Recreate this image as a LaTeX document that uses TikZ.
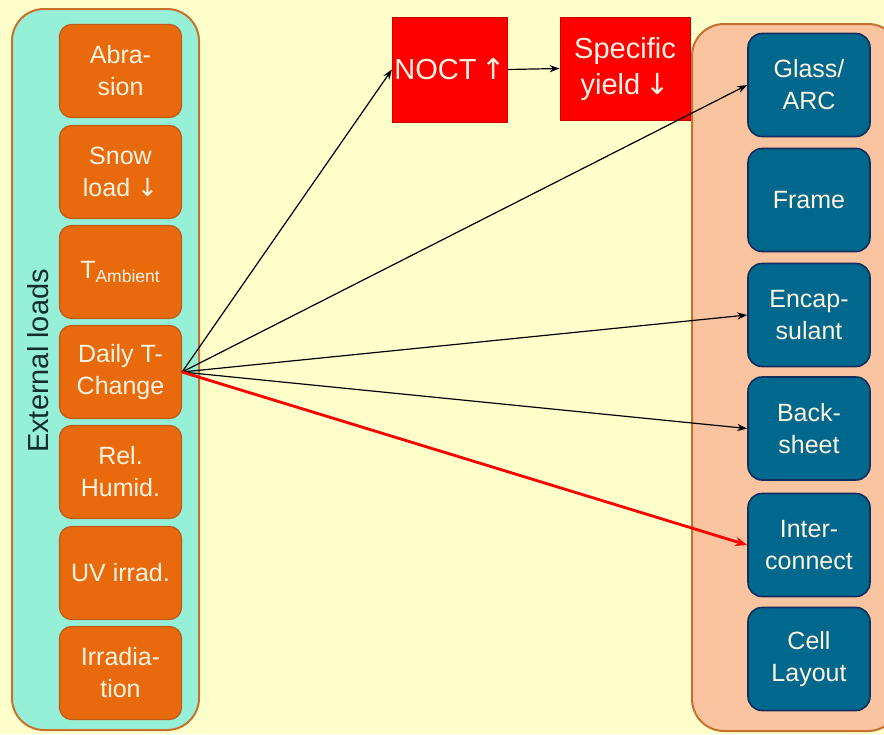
\documentclass[tikz,border=0pt]{standalone}
\usepackage{fontspec}
\setmainfont{Liberation Sans}
\newfontfamily\arrowfont{DejaVu Sans}
\usepackage{tikz}
\usetikzlibrary{
  arrows.meta, positioning, calc
}
\usepackage{xcolor}
\definecolor{bgyellow}{RGB}{255,255,204}
\definecolor{loadteal}{RGB}{150,240,216}
\definecolor{loadorange}{RGB}{232,106,12}
\definecolor{loadedge}{RGB}{190,90,25}
\definecolor{framebrown}{RGB}{200,112,45}
\definecolor{layerpeach}{RGB}{250,196,160}
\definecolor{layerblue}{RGB}{0,104,140}
\definecolor{layernavy}{RGB}{20,45,95}
\definecolor{effectred}{RGB}{255,0,0}
\definecolor{textcream}{RGB}{255,244,228}

\begin{document}
\begin{tikzpicture}[x=0.5pt, y=-0.5pt,
    loadbox/.style={draw=loadedge, fill=loadorange, rounded corners=6pt,
          minimum width=61pt, minimum height=46.5pt, line width=0.6pt,
          text=textcream, align=center, inner sep=1pt,
          font=\fontsize{12.5}{16}\selectfont},
    layerbox/.style={draw=layernavy, fill=layerblue, rounded corners=7pt,
          minimum width=61pt, minimum height=51.5pt, line width=0.8pt,
          text=textcream, align=center, inner sep=1pt,
          font=\fontsize{12.5}{16}\selectfont},
    effectbox/.style={draw=red!80!black, fill=effectred, line width=0.4pt,
          text=textcream, align=center, inner sep=1pt,
          font=\fontsize{14.5}{18}\selectfont},
    arr/.style={-{Stealth[length=5pt,width=3.6pt]}, line width=0.6pt},
    redarr/.style={-{Stealth[length=6pt,width=4.6pt]}, line width=1.4pt, draw=effectred}]
    \fill[bgyellow] (0,0) rectangle (884,734);
    \useasboundingbox (0,0) rectangle (884,734);
    \clip (0,0) rectangle (884,734);

    \draw[framebrown, fill=loadteal, line width=1pt, rounded corners=16pt]
      (12,9) rectangle (199,730);
    \node[rotate=90, text={rgb,255:red,20;green,45;blue,45},
          font=\fontsize{14.5}{18}\selectfont] (extlabel) at (38,361) {External loads};

    \node[loadbox] (abrasion) at (120.5,71) {Abra-\\sion};
    \node[loadbox] (snow) at (120.5,172) {Snow\\load {\arrowfont ↓}};
    \node[loadbox] (tamb) at (120.5,272) {T\textsubscript{Ambient}};
    \node[loadbox] (daily) at (120.5,372) {Daily T-\\Change};
    \node[loadbox] (humid) at (120.5,472) {Rel.\\Humid.};
    \node[loadbox] (uv) at (120.5,573) {UV irrad.};
    \node[loadbox] (irrad) at (120.5,673) {Irradia-\\tion};

    \draw[framebrown, fill=layerpeach, line width=1pt, rounded corners=16pt]
      (692,24) rectangle (900,731);

    \node[layerbox] (glass) at (809,85) {Glass/\\ARC};
    \node[layerbox] (frame) at (809,200) {Frame};
    \node[layerbox] (encap) at (809,315) {Encap-\\sulant};
    \node[layerbox] (back) at (809,428.5) {Back-\\sheet};
    \node[layerbox] (inter) at (809,545) {Inter-\\connect};
    \node[layerbox] (layout) at (809,659) {Cell\\Layout};

    \node[effectbox, minimum width=57pt, minimum height=52.5pt] (noct) at (450,69.5) {NOCT\,{\arrowfont ↑}};
    \node[effectbox, minimum width=65pt, minimum height=51.5pt] (yield) at (625,68.5) {Specific\\yield\,{\arrowfont ↓}};

    \draw[arr] (daily.east) -- (noct.west);
    \draw[arr] (noct.east) -- (yield.west);
    \draw[arr] (daily.east) -- (glass.west);
    \draw[arr] (daily.east) -- (encap.west);
    \draw[arr] (daily.east) -- (back.west);
    \draw[redarr] (daily.east) -- (inter.west);
  \end{tikzpicture}
\end{document}
